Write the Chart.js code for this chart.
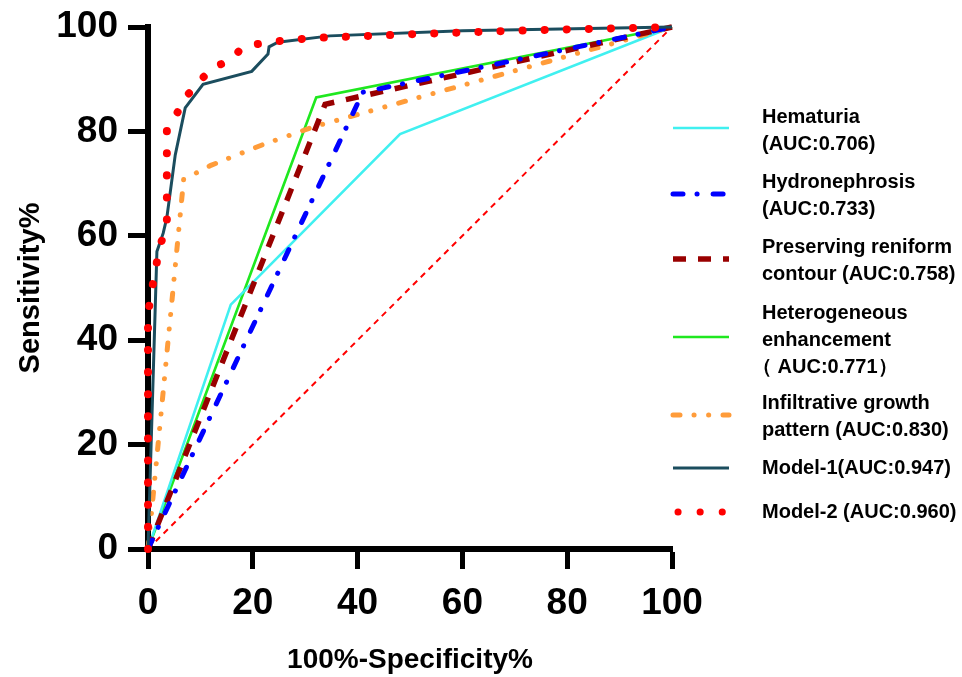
<!DOCTYPE html>
<html>
<head>
<meta charset="utf-8">
<script src="https://cdn.jsdelivr.net/npm/chart.js@4.4.1/dist/chart.umd.min.js"></script>
<style>
  body { margin: 0; background: #fff; }
</style>
</head>
<body>
<canvas id="roc" width="962" height="677"></canvas>
<script>
// ROC curves, x = 100%-Specificity%, y = Sensitivity%
var tickValues = [0, 20, 40, 60, 80, 100];

var hematuriaX = [0, 15.8, 48.1, 100];
var hematuriaY = [0, 46.8, 79.5, 100];

var hydroX = [0, 41, 100];
var hydroY = [0, 87.5, 100];

var reniformX = [0, 33.8, 100];
var reniformY = [0, 85.2, 100];

var heteroX = [0, 32.1, 100];
var heteroY = [0, 86.5, 100];

var infiltrX = [0, 6.8, 12, 22, 32, 100];
var infiltrY = [0, 70.8, 73.5, 77.5, 81, 100];

var model1X = [0, 1.7, 2.9, 3.6, 4, 5.2, 7.1, 10.5, 19.8, 22.9, 23.1, 24.8, 34.7, 60, 100];
var model1Y = [0, 57, 60.5, 63.5, 66.5, 75.5, 84.5, 89, 91.5, 94.8, 96.2, 97.1, 98.3, 99.3, 100];

var model2X = [0, 0, 0.7, 1.5, 2.3, 3.6, 3.6, 5.5, 7.2, 9.6, 12.2, 16, 18, 22.3, 26.9, 31.5, 50, 70, 100];
var model2Y = [0, 45, 49.5, 54, 58, 62.3, 80.5, 83.4, 86.6, 89.3, 92.2, 93.7, 96.2, 97, 97.5, 97.9, 98.6, 99.3, 100];

var refX = [0, 100];
var refY = [0, 100];

var legendText = [
  ["Hematuria", "(AUC:0.706)"],
  ["Hydronephrosis", "(AUC:0.733)"],
  ["Preserving reniform", "contour (AUC:0.758)"],
  ["Heterogeneous", "enhancement", "\uFF08 AUC:0.771\uFF09"],
  ["Infiltrative growth", "pattern (AUC:0.830)"],
  ["Model-1(AUC:0.947)"],
  ["Model-2 (AUC:0.960)"]
];

function pts(xs, ys) {
  return xs.map(function(x, i) { return {x: x, y: ys[i]}; });
}

var FONT = "'Liberation Sans', Arial, sans-serif";

var datasets = [
  {label: "Hematuria", data: pts(hematuriaX, hematuriaY), borderColor: "#40f0f0", borderWidth: 2.6, order: 5},
  {label: "Hydronephrosis", data: pts(hydroX, hydroY), borderColor: "#0000ff", borderWidth: 5, borderDash: [10, 14, 0.1, 16], borderCapStyle: "round", order: 2},
  {label: "Preserving reniform contour", data: pts(reniformX, reniformY), borderColor: "#990000", borderWidth: 5.5, borderDash: [13, 12], order: 3},
  {label: "Heterogeneous enhancement", data: pts(heteroX, heteroY), borderColor: "#1fe81f", borderWidth: 2.6, order: 6},
  {label: "Infiltrative growth pattern", data: pts(infiltrX, infiltrY), borderColor: "#ff9c3a", borderWidth: 5, borderDash: [7, 14, 0.1, 14.5, 0.1, 14.3], borderCapStyle: "round", order: 4},
  {label: "Model-1", data: pts(model1X, model1Y), borderColor: "#1b4d5e", borderWidth: 3, order: 1},
  {label: "Model-2", data: pts(model2X, model2Y), borderColor: "#ff0000", borderWidth: 8, borderDash: [0.1, 22], borderCapStyle: "round", order: 0},
  {label: "Reference", data: pts(refX, refY), borderColor: "#ff0000", borderWidth: 2, borderDash: [6, 5], order: 7}
];

// legend rows: y of the line sample and y of the first text line
var legendRows = [
  {sample: 128, text: 117},
  {sample: 194, text: 182},
  {sample: 259, text: 247},
  {sample: 337, text: 313},
  {sample: 415, text: 403},
  {sample: 468, text: 468},
  {sample: 512, text: 512}
];

var sideLegend = {
  id: "sideLegend",
  afterDraw: function(chart) {
    var ctx = chart.ctx;
    ctx.save();
    legendText.forEach(function(lines, i) {
      var ds = chart.data.datasets[i];
      var row = legendRows[i];
      ctx.beginPath();
      ctx.strokeStyle = ds.borderColor;
      ctx.lineWidth = Math.min(ds.borderWidth, 7);
      ctx.lineCap = ds.borderCapStyle || "butt";
      ctx.setLineDash(ds.borderDash || []);
      ctx.lineDashOffset = (i === 6) ? -5 : 0;
      ctx.moveTo(673, row.sample);
      ctx.lineTo(729, row.sample);
      ctx.stroke();
      ctx.setLineDash([]);
      ctx.fillStyle = "#000";
      ctx.font = "bold 20px " + FONT;
      ctx.textBaseline = "middle";
      ctx.textAlign = "left";
      lines.forEach(function(t, j) {
        var x = t.charAt(0) === "\uFF08" ? 752 : 762;
        ctx.fillText(t, x, row.text + j * 27);
      });
    });
    ctx.restore();
  }
};

function axisGrid() {
  return {
    display: true,
    drawOnChartArea: false,
    drawTicks: true,
    tickLength: 20,
    tickWidth: 5,
    tickColor: "#000"
  };
}

new Chart(document.getElementById("roc"), {
  type: "line",
  data: {datasets: datasets},
  options: {
    responsive: false,
    animation: false,
    events: [],
    layout: {padding: {left: 0, top: 27, right: 290, bottom: 0}},
    datasets: {line: {pointRadius: 0, tension: 0, fill: false, clip: false}},
    plugins: {legend: {display: false}, tooltip: {enabled: false}},
    scales: {
      x: {
        type: "linear",
        min: 0, max: 100,
        afterBuildTicks: function(s) { s.ticks = tickValues.map(function(v) { return {value: v}; }); },
        afterFit: function(s) { s.height = 128; },
        grid: axisGrid(),
        border: {display: true, width: 6, color: "#000"},
        ticks: {color: "#000", padding: 13, maxRotation: 0, font: {family: FONT, weight: "bold", size: 37}},
        title: {display: true, text: "100%-Specificity%", color: "#000", padding: {top: 0, bottom: 0}, font: {family: FONT, weight: "bold", size: 28}}
      },
      y: {
        type: "linear",
        min: 0, max: 100,
        afterBuildTicks: function(s) { s.ticks = tickValues.map(function(v) { return {value: v}; }); },
        afterFit: function(s) { s.width = 148; },
        grid: axisGrid(),
        border: {display: true, width: 6, color: "#000"},
        ticks: {color: "#000", padding: 10, font: {family: FONT, weight: "bold", size: 37, lineHeight: 0.8}},
        title: {display: true, text: "Sensitivity%", color: "#000", padding: {top: 14, bottom: 0}, font: {family: FONT, weight: "bold", size: 29}}
      }
    }
  },
  plugins: [sideLegend]
});
</script>
</body>
</html>
